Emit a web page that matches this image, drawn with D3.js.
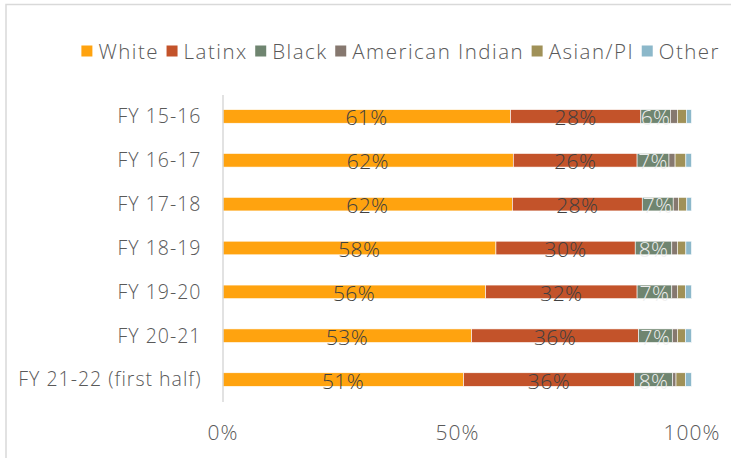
<!DOCTYPE html>
<html><head><meta charset="utf-8">
<script src="https://cdn.jsdelivr.net/npm/d3@7"></script>
<style>
html,body{margin:0;padding:0;background:#fff;}
text{font-family:"Open Sans","Noto Sans",sans-serif;font-weight:300;}
</style></head>
<body>
<svg id="c" width="731" height="458"></svg>
<script>
const categories = ["FY 15-16","FY 16-17","FY 17-18","FY 18-19","FY 19-20","FY 20-21","FY 21-22 (first half)"];
const seriesNames = ["White","Latinx","Black","American Indian","Asian/PI","Other"];
const white    = [61.4, 62.0, 61.8, 58.3, 56.1, 53.1, 51.4];
const latinx   = [27.8, 26.4, 27.7, 29.7, 32.3, 35.6, 36.4];
const black    = [6.3, 6.8, 6.6, 7.8, 7.4, 7.2, 8.2];
const amIndian = [1.5, 1.3, 1.1, 1.2, 1.2, 1.1, 0.7];
const asianPI  = [1.9, 2.3, 1.8, 1.8, 1.7, 1.7, 2.0];
const other    = [1.1, 1.2, 1.0, 1.2, 1.3, 1.3, 1.3];
const xTicks = [0, 50, 100];
const colors = ["#FFA30F","#C3532A","#6F8570","#86786F","#A09158","#8CB8CA"];
const labelColors = ["#404040","#404040","#EEEEEE",null,null,null];

const seriesValues = [white, latinx, black, amIndian, asianPI, other];
const rows = categories.map((c,i)=>{
  const r = {cat:c};
  seriesNames.forEach((s,k)=> r[s] = seriesValues[k][i]);
  return r;
});
const stacked = d3.stack().keys(seriesNames)(rows);

const svg = d3.select("#c");
// frame
svg.append("rect").attr("x",6).attr("y",4.5).attr("width",740).attr("height",470)
  .attr("fill","none").attr("stroke","#D9D9D9").attr("stroke-width",1.5);

const x = d3.scaleLinear().domain([0,100]).range([222.5, 691.5]);
const y = d3.scaleBand().domain(categories).range([94.5, 401.5]).paddingInner(0.69).paddingOuter(0.345);

// bars
const g = svg.append("g");
stacked.forEach((layer,k)=>{
  g.append("g").selectAll("rect").data(layer).join("rect")
    .attr("x", d=>x(d[0])).attr("width", d=>x(d[1])-x(d[0]))
    .attr("y", d=>y(d.data.cat)).attr("height", y.bandwidth())
    .attr("fill", colors[k]).attr("stroke","#fff").attr("stroke-width",0.6);
});
// data labels
stacked.forEach((layer,k)=>{
  if(!labelColors[k]) return;
  g.append("g").selectAll("text").data(layer).join("text")
    .attr("x", d=>(x(d[0])+x(d[1]))/2)
    .attr("y", d=>y(d.data.cat)+y.bandwidth()/2+9)
    .attr("text-anchor","middle")
    .attr("font-size",21)
    .attr("letter-spacing","0.4px")
    .attr("fill", labelColors[k])
    .text(d=>Math.round(d[1]-d[0])+"%");
});

// y axis
const yAxis = d3.axisLeft(y).tickSize(0).tickPadding(21);
const ya = svg.append("g").attr("transform","translate(222.5,0)").call(yAxis);
ya.select(".domain").attr("stroke","#D9D9D9").attr("stroke-width",1.5);
ya.selectAll("text").attr("font-size",19.5).attr("fill","#595959")
  .attr("font-family","\"Open Sans\",sans-serif").attr("dy","0.35em").attr("letter-spacing","1px");

// x axis labels
const xAxis = d3.axisBottom(x).tickValues(xTicks).tickSize(0).tickFormat(d=>d+"%");
const xa = svg.append("g").attr("transform","translate(0,418)").call(xAxis);
xa.select(".domain").remove();
xa.selectAll("text").attr("font-size",21).attr("fill","#595959")
  .attr("font-family","\"Open Sans\",sans-serif").attr("dy","0.9em").attr("letter-spacing","1px");

// legend
const leg = svg.append("g");
const ls = 1.5;
let lx = 0;
seriesNames.forEach((s,k)=>{
  const it = leg.append("g").attr("transform",`translate(${lx},0)`);
  it.append("rect").attr("x",0).attr("y",-5.5).attr("width",11).attr("height",11).attr("fill",colors[k]);
  const t = it.append("text").attr("x",17).attr("y",7.5).attr("font-size",20.5).attr("fill","#595959")
    .attr("letter-spacing",ls+"px").text(s);
  lx += 17 + t.node().getComputedTextLength() - ls + 9;
});
const legW = lx - 9;
leg.attr("transform",`translate(${400 - legW/2},51)`);
</script>
</body></html>
